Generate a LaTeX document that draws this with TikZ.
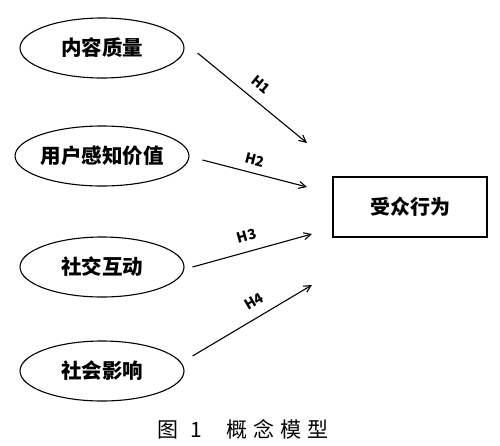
\documentclass[tikz,border=0pt]{standalone}
\usepackage{fontspec}
\newfontfamily\cjk{Noto Sans CJK SC}
\usetikzlibrary{arrows.meta, positioning, shapes.geometric}

\begin{document}
\begin{tikzpicture}[x=1pt, y=-1pt, >={Straight Barb[length=7pt, width=7pt]},
      line width=1.1pt,
      var/.style={ellipse, draw, minimum width=164pt, minimum height=60pt,
                  inner sep=0pt, font=\cjk\bfseries\fontsize{20.5}{20.5}\selectfont},
      dep/.style={rectangle, draw, line width=1.8pt, minimum width=154pt,
                  minimum height=60pt, font=\cjk\bfseries\fontsize{20}{20}\selectfont},
      hyp/.style={sloped, above=9pt, inner sep=1pt, font=\cjk\bfseries\fontsize{14}{14}\selectfont}]
    \useasboundingbox (0,0) rectangle (500,445);
    \node[var] (q) at (102,48)  {内容质量};
    \node[var] (v) at (102,156) {用户感知价值};
    \node[var] (s) at (102,267) {社交互动};
    \node[var] (i) at (102,371) {社会影响};
    \node[dep] (b) at (410,207) {受众行为};
    % arrow ends, left of the box
    \coordinate (t1) at (307,143);
    \coordinate (t2) at (307,187);
    \coordinate (t3) at (312,234);
    \coordinate (t4) at (312,285);
    \draw[->] ([xshift=13pt, yshift=-5pt]q.east) -- node[hyp, pos=0.49] {H1} (t1);
    \draw[->] ([xshift=13pt, yshift=-4pt]v.east) -- node[hyp, pos=0.47, above=6pt] {H2} (t2);
    \draw[->] ([xshift=8pt, yshift=0pt]s.east) -- node[hyp, pos=0.49] {H3} (t3);
    \draw[->] ([xshift=8pt, yshift=15pt]i.east) -- node[hyp, pos=0.58] {H4} (t4);
    \node[font=\cjk\fontsize{21}{21}\selectfont] (cap) at (243,429)
      {图\hspace{12pt}1\hspace{24pt}概\hspace{6pt}念\hspace{6pt}模\hspace{6pt}型};
  \end{tikzpicture}
\end{document}
